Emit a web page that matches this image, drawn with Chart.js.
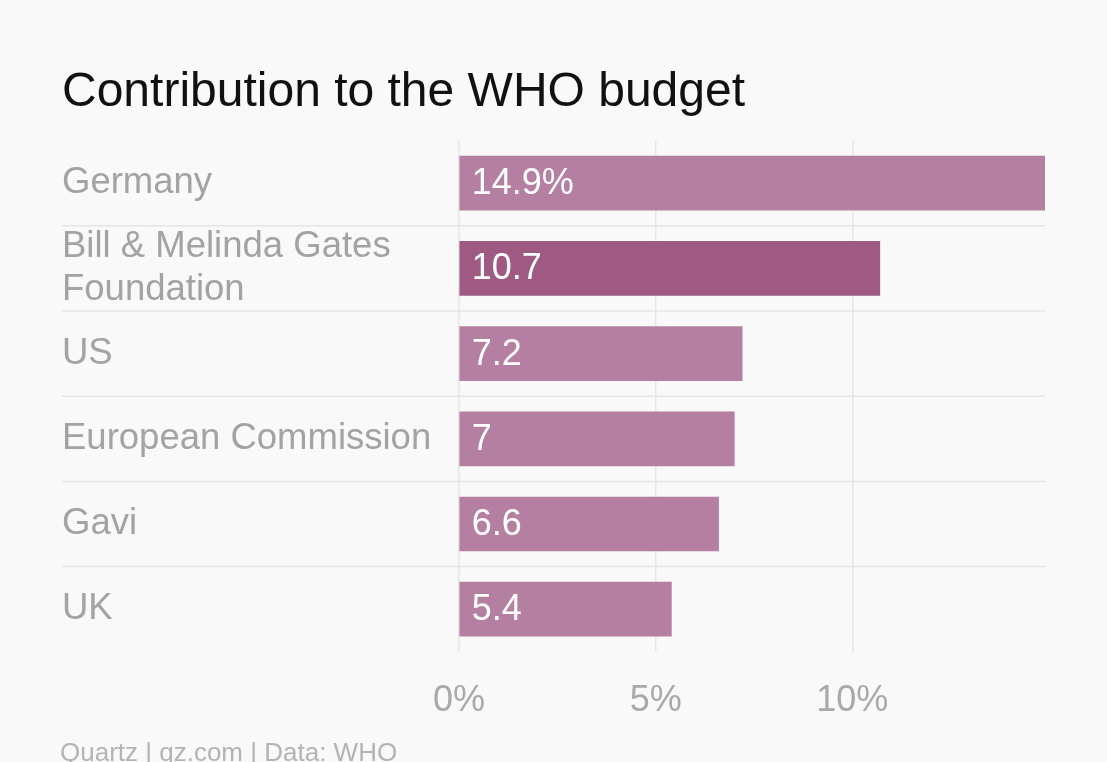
<!DOCTYPE html>
<html>
<head>
<meta charset="utf-8">
<script src="https://cdn.jsdelivr.net/npm/chart.js@4/dist/chart.umd.min.js"></script>
<style>
  html, body { margin: 0; padding: 0; background: #f9f9f9; overflow: hidden; }
  #wrap { position: relative; width: 1107px; height: 762px; }
  #footer { position: absolute; left: 60px; top: 739px; font-family: "Liberation Sans", Arial, sans-serif;
            font-size: 26px; line-height: 26px; color: #b3b3b3; white-space: nowrap; }
</style>
</head>
<body>
<div id="wrap">
  <canvas id="c"></canvas>
  <div id="footer">Quartz | qz.com | Data: WHO</div>
</div>
<script>
const categories = ['Germany', ['Bill & Melinda Gates', 'Foundation'], 'US', 'European Commission', 'Gavi', 'UK'];
const values = [14.9, 10.7, 7.2, 7.0, 6.6, 5.4];
const valueLabels = ['14.9%', '10.7', '7.2', '7', '6.6', '5.4'];
const xTickValues = [0, 5, 10];
const highlightIndex = 1;

const FONT = '"Liberation Sans", Arial, sans-serif';
const LIGHT = '#b47fa0';
const DARK = '#9e5a83';

const separators = {
  id: 'separators',
  beforeDatasetsDraw(chart) {
    const y = chart.scales.y, area = chart.chartArea, ctx = chart.ctx;
    ctx.save();
    ctx.strokeStyle = '#e4e4e4';
    ctx.lineWidth = 1.5;
    for (let i = 0; i < categories.length - 1; i++) {
      const py = (y.getPixelForValue(i) + y.getPixelForValue(i + 1)) / 2;
      ctx.beginPath();
      ctx.moveTo(chart.options.layout.padding.left, py);
      ctx.lineTo(area.right, py);
      ctx.stroke();
    }
    ctx.restore();
  }
};

const barLabels = {
  id: 'barLabels',
  afterDatasetsDraw(chart) {
    const meta = chart.getDatasetMeta(0), ctx = chart.ctx;
    ctx.save();
    ctx.fillStyle = '#ffffff';
    ctx.font = '36px ' + FONT;
    ctx.textAlign = 'left';
    ctx.textBaseline = 'middle';
    meta.data.forEach((bar, i) => {
      ctx.fillText(valueLabels[i], bar.base + 12, bar.y + 1);
    });
    ctx.restore();
  }
};

new Chart(document.getElementById('c'), {
  type: 'bar',
  data: {
    labels: categories,
    datasets: [{
      data: values,
      backgroundColor: values.map((v, i) => i === highlightIndex ? DARK : LIGHT),
      borderWidth: 0,
      barThickness: 54
    }]
  },
  options: {
    indexAxis: 'y',
    responsive: true,
    maintainAspectRatio: false,
    animation: false,
    layout: { padding: { left: 62, right: 62, top: 0, bottom: 11 } },
    scales: {
      x: {
        min: 0,
        max: 14.9,
        afterBuildTicks: s => { s.ticks = xTickValues.map(v => ({ value: v })); },
        grid: { color: '#e6e6e6', lineWidth: 1.5, drawTicks: false },
        border: { display: false },
        ticks: {
          padding: 28,
          color: '#a9a9a9',
          font: { family: FONT, size: 36 },
          callback: v => v + '%'
        }
      },
      y: {
        grid: { display: false, drawTicks: false },
        border: { display: false },
        afterFit: s => { s.width = 397; },
        ticks: {
          autoSkip: false,
          crossAlign: 'far',
          padding: 0,
          color: '#a3a3a3',
          font: { family: FONT, size: 36.5, lineHeight: 1.2 }
        }
      }
    },
    plugins: {
      legend: { display: false },
      tooltip: { enabled: false },
      title: {
        display: true,
        text: 'Contribution to the WHO budget',
        align: 'start',
        color: '#111111',
        font: { family: FONT, size: 48, weight: 'normal', lineHeight: 1.2 },
        padding: { top: 64, bottom: 19 }
      }
    }
  },
  plugins: [separators, barLabels]
});
</script>
</body>
</html>
